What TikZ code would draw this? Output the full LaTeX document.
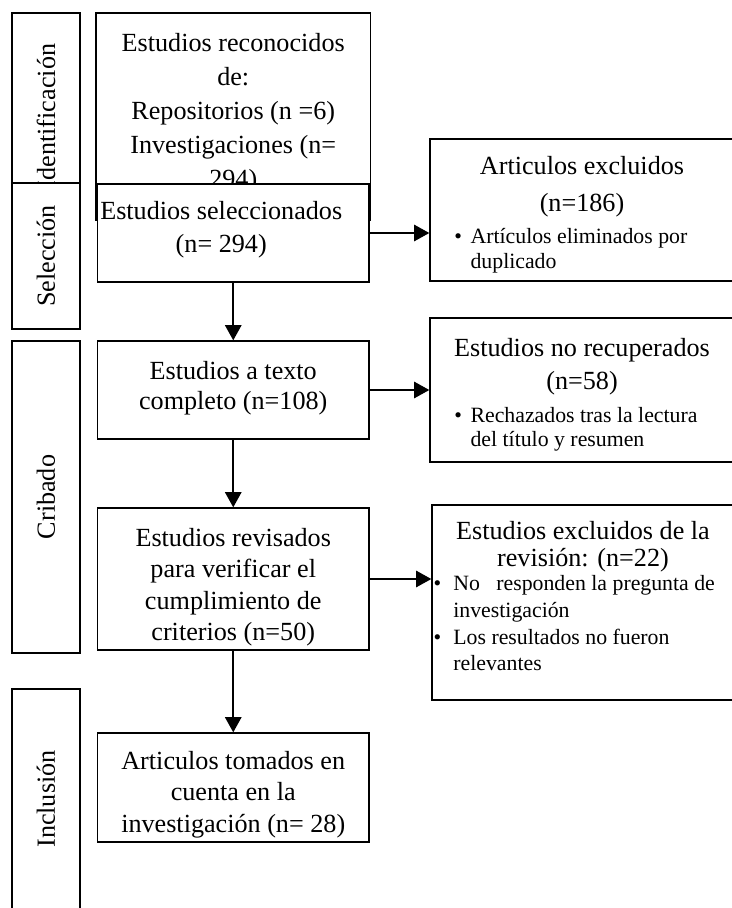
\documentclass[tikz,border=0pt]{standalone}
\usepackage{fontspec}
\setmainfont{Liberation Serif}
\usetikzlibrary{positioning}
\usetikzlibrary{arrows.meta}

% un pixel de la figura original
\def\px{0.4587pt}
\newcommand{\grande}[1]{\fontsize{12}{#1}\selectfont}
\newcommand{\chica}[1]{\fontsize{10}{#1}\selectfont}
\newcommand{\vinetas}[2]{\begin{tabular}{@{}l@{\hspace{#1}}l@{}}#2\end{tabular}}

\begin{document}
\begin{tikzpicture}[x=0.4587pt, y=-0.4587pt,
	caja/.style={draw, line width=0.6pt, fill=white, inner sep=0pt},
	tam/.style 2 args={minimum width=#1*\px, minimum height=#2*\px},
	texto/.style={align=center, inner sep=0pt, font=\grande{15.1}},
	lista/.style={inner sep=0pt},
	fase/.style={rotate=90, inner sep=0pt, font=\grande{15}},
	flecha/.style={-{Triangle[length=7pt,width=7.5pt]}, line width=0.9pt}]

	% Marco de la figura
	\useasboundingbox (0,0) rectangle (732,908);
	\clip (0,0) rectangle (732,908);

	% Identificacion
	\node[caja, tam={68}{207}] (ident) at (46,116.5) {};
	\node[fase] (identt) at (ident) {Identificación};
	\node[caja, tam={274.5}{207}] (recon) at (233.25,116.5) {};
	\node[texto, font=\grande{15.6}, below=9.4pt of recon.north] (recont) {Estudios reconocidos\\de:\\Repositorios (n =6)\\Investigaciones (n=\\294)};

	% Seleccion
	\node[caja, tam={68}{146}] (selec) at (46,256) {};
	\node[fase] (select) at (selec) {Selección};
	\node[caja, tam={271.5}{98}] (elegidos) at (233.25,233) {};
	\node[texto, below=7.9pt of elegidos.north, xshift=-5.5pt] (elegidost) {Estudios seleccionados\\(n= 294)};

	\node[caja, tam={304}{142}] (excl) at (582,210) {};
	\node[texto, font=\grande{17}, below=7.9pt of excl.north] (exclt) {Articulos excluidos\\(n=186)};
	\node[lista, font=\chica{11.5}, below right=39.8pt and 11.3pt of excl.north west] (excll)
		{\vinetas{3.9pt}{\textbullet & Artículos eliminados por\\ & duplicado}};

	% Cribado
	\node[caja, tam={68}{312}] (criba) at (46,497) {};
	\node[fase] (cribat) at (criba) {Cribado};
	\node[caja, tam={271.5}{98}] (completo) at (233.25,390) {};
	\node[texto, font=\grande{13.8}, below=9.3pt of completo.north] (completot) {Estudios a texto\\completo (n=108)};
	\node[caja, tam={271.5}{142}] (revisados) at (233.25,579) {};
	\node[texto, font=\grande{14.4}, below=9.3pt of revisados.north] (revisadost) {Estudios revisados\\para verificar el\\cumplimiento de\\criterios (n=50)};

	\node[caja, tam={304}{144}] (norec) at (582,390) {};
	\node[texto, below=9.3pt of norec.north] (norect) {Estudios no recuperados\\(n=58)};
	\node[lista, font=\chica{11}, below right=40.5pt and 11.3pt of norec.north west] (norecl)
		{\vinetas{3.9pt}{\textbullet & Rechazados tras la lectura\\ & del título y resumen}};

	\node[caja, tam={302}{195}] (exclrev) at (583,602.5) {};
	\node[texto, font=\grande{12.4}, below=7.5pt of exclrev.north] (exclrevt) {Estudios excluidos de la\\revisión: (n=22)};
	\node[lista, font=\chica{12.2}, below right=31pt and 0.8pt of exclrev.north west] (exclrevl)
		{\vinetas{5.6pt}{\textbullet & No\ \ \ responden la pregunta de\\ & investigación\\ \textbullet & Los resultados no fueron\\ & relevantes}};

	% Inclusion
	\node[caja, tam={68}{226}] (inclu) at (46,802) {};
	\node[fase] (inclut) at (46,799) {Inclusión};
	\node[caja, tam={271.5}{109}] (tomados) at (233.25,787.5) {};
	\node[texto, font=\grande{14.5}, below=8.4pt of tomados.north] (tomadost) {Articulos tomados en\\cuenta en la\\investigación (n= 28)};

	% Flechas
	\draw[flecha] (elegidos.south) -- (completo.north);
	\draw[flecha] (completo.south) -- (revisados.north);
	\draw[flecha] (revisados.south) -- (tomados.north);
	\draw[flecha] (elegidos.east) -- (elegidos.east -| excl.west);
	\draw[flecha] (completo.east) -- (completo.east -| norec.west);
	\draw[flecha] (revisados.east) -- (revisados.east -| exclrev.west);
\end{tikzpicture}
\end{document}
